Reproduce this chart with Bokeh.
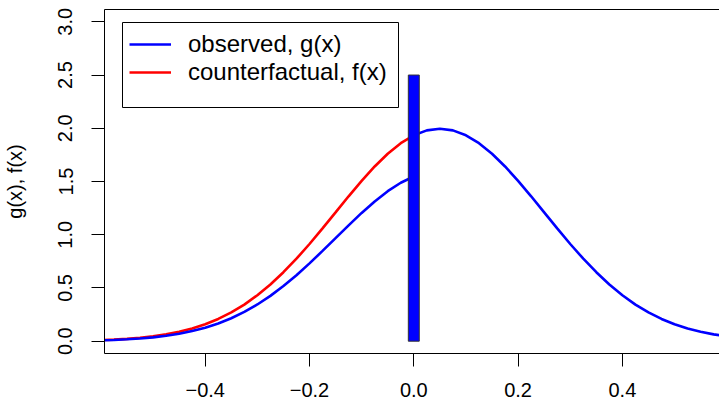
from bokeh.plotting import figure
from bokeh.models import (Range1d, FixedTicker, LinearAxis, Legend, LegendItem,
                          NumeralTickFormatter, BoxAnnotation)
from bokeh.embed import file_html
from bokeh.resources import INLINE

# ---- data ----
x_left = [-0.600, -0.575, -0.550, -0.525, -0.500, -0.475, -0.450, -0.425, -0.400,
          -0.375, -0.350, -0.325, -0.300, -0.275, -0.250, -0.225, -0.200, -0.175,
          -0.150, -0.125, -0.100, -0.075, -0.050, -0.025, 0.000]
f_left = [0.010, 0.015, 0.022, 0.032, 0.046, 0.064, 0.088, 0.119, 0.159, 0.209,
          0.270, 0.344, 0.432, 0.533, 0.648, 0.775, 0.913, 1.060, 1.210, 1.361,
          1.506, 1.641, 1.761, 1.860, 1.934]
g_left = [0.008, 0.012, 0.018, 0.026, 0.036, 0.051, 0.070, 0.095, 0.127, 0.167,
          0.216, 0.275, 0.345, 0.426, 0.518, 0.620, 0.731, 0.848, 0.968, 1.088,
          1.205, 1.313, 1.409, 1.488, 1.547]
x_right = [0.000, 0.025, 0.050, 0.075, 0.100, 0.125, 0.150, 0.175, 0.200, 0.225,
           0.250, 0.275, 0.300, 0.325, 0.350, 0.375, 0.400, 0.425, 0.450, 0.475,
           0.500, 0.525, 0.550, 0.575, 0.600]
g_right = [1.934, 1.980, 1.995, 1.980, 1.934, 1.860, 1.761, 1.641, 1.506, 1.361,
           1.210, 1.060, 0.913, 0.775, 0.648, 0.533, 0.432, 0.344, 0.270, 0.209,
           0.159, 0.119, 0.088, 0.064, 0.046]
bar_x = [0.0]
bar_top = [2.5]

x_ticks = [-0.4, -0.2, 0.0, 0.2, 0.4]
x_tick_labels = ["\u22120.4", "\u22120.2", "0.0", "0.2", "0.4"]
y_ticks = [0.0, 0.5, 1.0, 1.5, 2.0, 2.5, 3.0]
y_label = "g(x), f(x)"
legend_labels = ["observed, g(x)", "counterfactual, f(x)"]

FONT = "Liberation Sans"
BLUE = "#0000FF"
RED = "#FF0000"

p = figure(width=719, height=401, output_backend="svg", toolbar_location=None,
           x_range=Range1d(-0.5931, 0.5862), y_range=Range1d(-0.1155, 3.1155),
           min_border_left=104, min_border_right=0, min_border_top=9,
           min_border_bottom=48)
p.outline_line_color = None
p.xgrid.visible = False
p.ygrid.visible = False
p.background_fill_color = "white"
p.border_fill_color = "white"

r_f = p.line(x_left, f_left, line_color=RED, line_width=2.6)
r_gl = p.line(x_left, g_left, line_color=BLUE, line_width=2.6)
r_gr = p.line(x_right, g_right, line_color=BLUE, line_width=2.6)
p.vbar(x=bar_x, top=bar_top, bottom=0, width=0.021, fill_color=BLUE,
       line_color="#333333", line_width=1)

# axes
xa = p.xaxis[0]
xa.ticker = FixedTicker(ticks=x_ticks)
xa.major_label_overrides = {t: l for t, l in zip(x_ticks, x_tick_labels)}
ya = p.yaxis[0]
ya.ticker = FixedTicker(ticks=y_ticks)
ya.formatter = NumeralTickFormatter(format="0.0")
ya.major_label_orientation = "vertical"
ya.axis_label = y_label
for ax in (xa, ya):
    ax.major_tick_out = 13
    ax.major_tick_in = 0
    ax.minor_tick_line_color = None
    ax.axis_line_color = "black"
    ax.major_tick_line_color = "black"
    ax.major_label_text_font = FONT
    ax.major_label_text_font_size = "20px"
    ax.major_label_text_color = "black"
    ax.axis_label_text_font = FONT
    ax.axis_label_text_font_size = "20px"
    ax.axis_label_text_font_style = "normal"
    ax.axis_label_text_color = "black"
xa.major_label_standoff = 16
xa.major_label_text_line_height = 1.0
ya.major_label_standoff = 19
ya.axis_label_standoff = 30

top = LinearAxis(ticker=FixedTicker(ticks=[]), axis_line_color="black",
                 major_label_text_font_size="0px", major_tick_out=0,
                 minor_tick_out=0, minor_tick_line_color=None)
p.add_layout(top, "above")

# legend frame (screen units, measured from the frame's bottom-left corner)
p.add_layout(BoxAnnotation(left=18, right=294, top=331, bottom=246,
                           left_units="screen", right_units="screen",
                           top_units="screen", bottom_units="screen",
                           fill_color="white", fill_alpha=1.0,
                           line_color="black", line_width=1, line_alpha=1.0))

legend = Legend(items=[LegendItem(label=legend_labels[0], renderers=[r_gl]),
                       LegendItem(label=legend_labels[1], renderers=[r_f])],
                location=(25, 267), orientation="vertical")
legend.label_text_font = FONT
legend.label_text_font_size = "24px"
legend.label_text_color = "black"
legend.glyph_width = 42
legend.glyph_height = 28
legend.label_height = 28
legend.label_standoff = 17
legend.spacing = -3
legend.padding = 0
legend.margin = 0
legend.border_line_color = None
legend.background_fill_alpha = 0
p.add_layout(legend, "center")

open("out.html", "w").write(file_html(p, INLINE))
